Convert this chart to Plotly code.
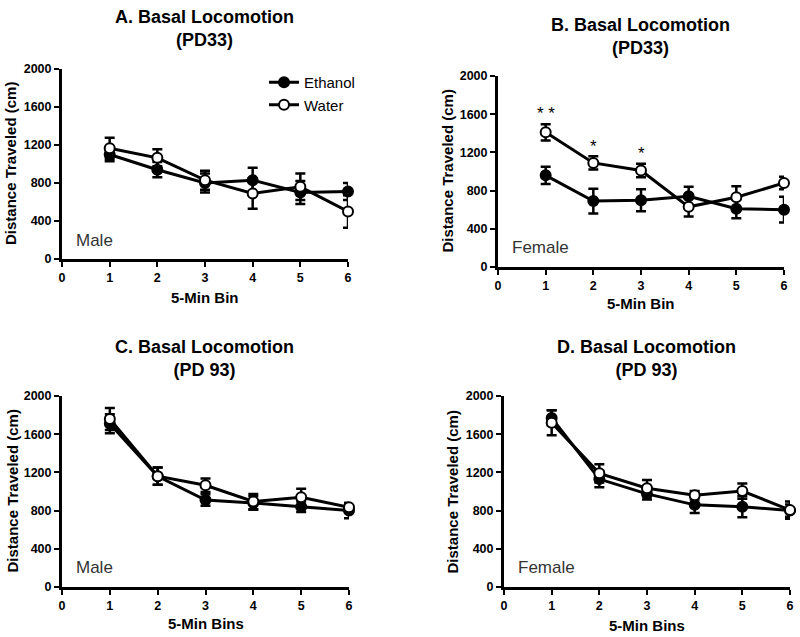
import plotly.graph_objects as go

bins = [1, 2, 3, 4, 5, 6]

# Panel A: PD33 Male
a_eth = [1100, 940, 800, 830, 700, 710]
a_eth_err = [70, 80, 100, 130, 120, 90]
a_wat = [1165, 1065, 830, 690, 760, 500]
a_wat_err = [110, 90, 100, 160, 140, 170]

# Panel B: PD33 Female
b_eth = [960, 690, 700, 740, 610, 600]
b_eth_err = [90, 130, 115, 100, 100, 135]
b_wat = [1410, 1090, 1010, 630, 730, 880]
b_wat_err = [85, 70, 70, 100, 115, 65]

# Panel C: PD 93 Male
c_eth = [1710, 1160, 910, 880, 840, 800]
c_eth_err = [100, 90, 60, 70, 55, 80]
c_wat = [1760, 1160, 1065, 895, 940, 835]
c_wat_err = [115, 90, 70, 80, 90, 45]

# Panel D: PD 93 Female
d_eth = [1770, 1130, 975, 860, 840, 800]
d_eth_err = [80, 85, 60, 85, 110, 65]
d_wat = [1720, 1190, 1035, 960, 1005, 805]
d_wat_err = [130, 95, 85, 45, 80, 90]

star_x = [1, 2, 3]
star_y = [1610, 1260, 1190]
star_text = ["* *", "*", "*"]

titles = ["A. Basal Locomotion<br>(PD33)", "B. Basal Locomotion<br>(PD33)",
          "C. Basal Locomotion<br>(PD 93)", "D. Basal Locomotion<br>(PD 93)"]
xtitles = ["5-Min Bin", "5-Min Bin", "5-Min Bins", "5-Min Bins"]
sexes = ["Male", "Female", "Male", "Female"]
x_ticks = [0, 1, 2, 3, 4, 5, 6]
y_ticks = [0, 400, 800, 1200, 1600, 2000]

W, H = 800, 637

# pixel boxes (left, right, top, bottom) for each panel
boxes = [(62, 348, 69, 259), (498, 784, 76, 267), (62, 349, 396, 587), (504, 790, 396, 587)]
title_y = [29, 36.5, 358.5, 358.5]
title_x = [204, 640, 205, 646]
xtitle_y = [297, 303, 623, 625]
ytitle_dx = [52, 51, 50, 52]

FONT = "Arial, Liberation Sans, sans-serif"
fig = go.Figure()

data = [(a_eth, a_eth_err, a_wat, a_wat_err), (b_eth, b_eth_err, b_wat, b_wat_err),
        (c_eth, c_eth_err, c_wat, c_wat_err), (d_eth, d_eth_err, d_wat, d_wat_err)]

layout = {}
annotations = []
for i, ((eth, eth_err, wat, wat_err), (l, r, t, b)) in enumerate(zip(data, boxes)):
    n = i + 1
    xa = "x" if n == 1 else f"x{n}"
    ya = "y" if n == 1 else f"y{n}"
    for name, vals, err, fill in [("Ethanol", eth, eth_err, "black"), ("Water", wat, wat_err, "white")]:
        fig.add_trace(go.Scatter(
            x=bins, y=vals, name=name, xaxis=xa, yaxis=ya,
            mode="lines+markers", cliponaxis=False,
            showlegend=(n == 1),
            line=dict(color="black", width=3),
            marker=dict(size=10, color=fill, line=dict(color="black", width=2)),
            error_y=dict(type="data", array=err, visible=True, color="black", thickness=2.5, width=5),
        ))
    axis_common = dict(showgrid=False, zeroline=False, showline=True, linecolor="black", linewidth=3,
                       ticks="outside", ticklen=5, tickwidth=2, tickcolor="black", automargin=False,
                       tickfont=dict(family=FONT, size=12.5, color="black", weight="bold"))
    layout[f"xaxis{'' if n == 1 else n}"] = dict(
        domain=[l / W, r / W], range=[0, 6], tickvals=x_ticks, anchor=ya, **axis_common)
    layout[f"yaxis{'' if n == 1 else n}"] = dict(
        domain=[(H - b) / H, (H - t) / H], range=[0, 2000], tickvals=y_ticks, anchor=xa, **axis_common)
    cx = (l + r) / 2 / W
    annotations.append(dict(text=f"<b>{titles[i]}</b>", xref="paper", yref="paper",
                            x=title_x[i] / W, y=1 - title_y[i] / H,
                            xanchor="center", yanchor="middle",
                            showarrow=False, font=dict(family=FONT, size=18, color="black")))
    annotations.append(dict(text=f"<b>{xtitles[i]}</b>", xref="paper", yref="paper", x=cx,
                            y=1 - xtitle_y[i] / H, xanchor="center", yanchor="middle",
                            showarrow=False, font=dict(family=FONT, size=15, color="black")))
    annotations.append(dict(text="<b>Distance Traveled (cm)</b>", xref="paper", yref="paper",
                            x=(l - ytitle_dx[i]) / W, y=1 - (t + b) / 2 / H, textangle=-90,
                            showarrow=False, font=dict(family=FONT, size=15, color="black"),
                            xanchor="center", yanchor="middle"))
    annotations.append(dict(text=sexes[i], xref=xa, yref=ya, x=0.25, y=200, xanchor="left", yanchor="middle",
                            showarrow=False, font=dict(family=FONT, size=17, color="#333333")))

for sx, sy, st in zip(star_x, star_y, star_text):
    annotations.append(dict(text=st, xref="x2", yref="y2", x=sx, y=sy, showarrow=False,
                            xanchor="center", yanchor="middle",
                            font=dict(family=FONT, size=17, color="black")))

fig.update_layout(
    width=W, height=H, margin=dict(l=0, r=0, t=0, b=0, autoexpand=False),
    paper_bgcolor="white", plot_bgcolor="white",
    annotations=annotations,
    legend=dict(x=264 / W, y=1 - 66 / H, xanchor="left", yanchor="top",
                font=dict(family=FONT, size=15, color="black"), bgcolor="rgba(0,0,0,0)",
                tracegroupgap=0, itemwidth=30),
    **layout,
)

fig.write_html("out.html", config={"displayModeBar": False},
               post_script="document.body.style.margin='0';")
